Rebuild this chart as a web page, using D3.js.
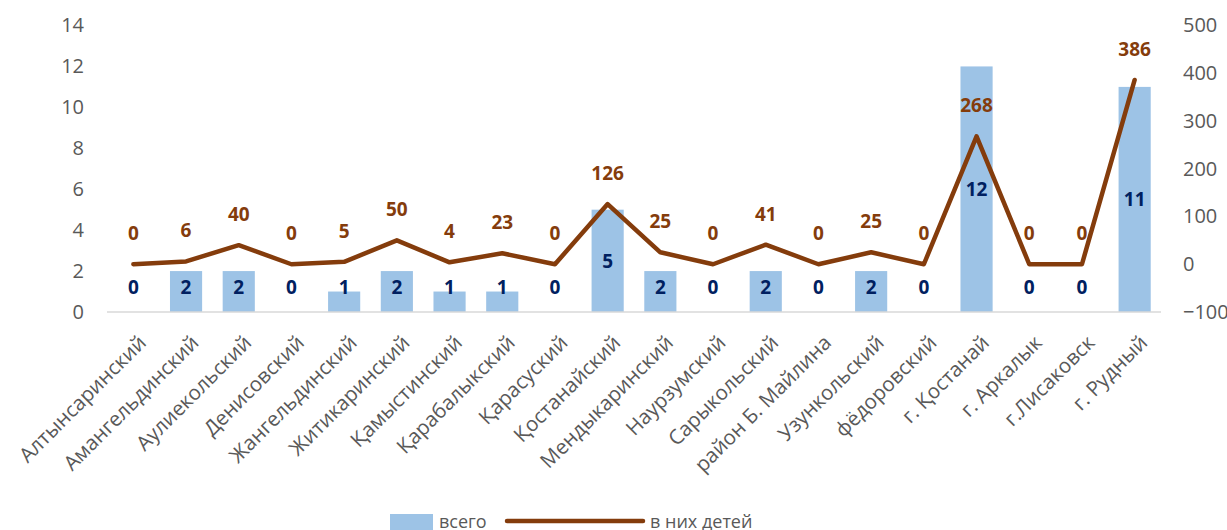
<!DOCTYPE html>
<html><head><meta charset="utf-8">
<script src="https://cdn.jsdelivr.net/npm/d3@7"></script>
<style>
body{margin:0;background:#fff;}
svg{display:block;font-family:"Open Sans",sans-serif;}
</style></head><body>
<svg id="c" width="1227" height="530"></svg>
<script>
const categories = ["Алтынсаринский","Амангельдинский","Аулиекольский","Денисовский","Жангельдинский","Житикаринский","Қамыстинский","Қарабалыкский","Қарасуский","Қостанайский","Мендыкаринский","Наурзумский","Сарыкольский","район Б. Майлина","Узункольский","фёдоровский","г. Қостанай","г. Аркалык","г.Лисаковск","г. Рудный"];
const totalValues = [0,2,2,0,1,2,1,1,0,5,2,0,2,0,2,0,12,0,0,11];
const childValues = [0,6,40,0,5,50,4,23,0,126,25,0,41,0,25,0,268,0,0,386];
const leftTicks = [0,2,4,6,8,10,12,14];
const rightTicks = [-100,0,100,200,300,400,500];
const seriesNames = ["всего","в них детей"];

const svg = d3.select("#c");
const x0 = 107, x1 = 1161, yTop = 25.5, yBot = 312;
const x = d3.scaleBand().domain(categories).range([x0,x1]).paddingInner(0.39).paddingOuter(0.195);
const yL = d3.scaleLinear().domain([0,14]).range([yBot,yTop]);
const yR = d3.scaleLinear().domain([-100,500]).range([yBot,yTop]);
const cx = d => x(d) + x.bandwidth()/2;

// left axis
const gL = svg.append("g").attr("transform",`translate(${x0},0)`)
  .call(d3.axisLeft(yL).tickValues(leftTicks).tickSize(0).tickPadding(23));
gL.select(".domain").remove();
gL.selectAll("text").attr("fill","#595959").style("font-size","20px").style("font-family","Open Sans");

// right axis
const gR = svg.append("g").attr("transform",`translate(${x1},0)`)
  .call(d3.axisRight(yR).tickValues(rightTicks).tickSize(0).tickPadding(22));
gR.select(".domain").remove();
gR.selectAll("text").attr("fill","#595959").style("font-size","20px").style("font-family","Open Sans");

// bars
svg.append("g").selectAll("rect").data(categories).join("rect")
  .attr("x",d=>x(d)).attr("width",x.bandwidth())
  .attr("y",(d,i)=>yL(totalValues[i])).attr("height",(d,i)=>yL(0)-yL(totalValues[i]))
  .attr("fill","#9DC3E6");

// baseline
svg.append("line").attr("x1",x0).attr("x2",x1).attr("y1",yL(0)).attr("y2",yL(0))
  .attr("stroke","#D9D9D9").attr("stroke-width",1.5);

// x axis labels
const gX = svg.append("g").attr("transform",`translate(0,${yBot})`)
  .call(d3.axisBottom(x).tickSize(0).tickPadding(0));
gX.select(".domain").remove();
gX.selectAll("text")
  .attr("fill","#595959").style("font-size","20.5px").style("font-family","Open Sans")
  .attr("text-anchor","end").attr("dy",0)
  .attr("transform","translate(14,32) rotate(-45)");

// line
const line = d3.line().x((d,i)=>cx(categories[i])).y(d=>yR(d));
svg.append("path").datum(childValues).attr("d",line)
  .attr("fill","none").attr("stroke","#843C0C").attr("stroke-width",4.5)
  .attr("stroke-linejoin","round").attr("stroke-linecap","round");

// bar labels
svg.append("g").selectAll("text").data(categories).join("text")
  .attr("x",d=>cx(d))
  .attr("y",(d,i)=>Math.min((yL(totalValues[i])+yL(0))/2, yL(0)-25)+7)
  .attr("text-anchor","middle").attr("fill","#002060")
  .style("font-size","19px").style("font-weight","bold")
  .text((d,i)=>totalValues[i]);

// line labels
svg.append("g").selectAll("text").data(categories).join("text")
  .attr("x",d=>cx(d))
  .attr("y",(d,i)=>yR(childValues[i])-24)
  .attr("text-anchor","middle").attr("fill","#843C0C")
  .style("font-size","19px").style("font-weight","bold")
  .text((d,i)=>childValues[i]);

// legend
const lg = svg.append("g");
lg.append("rect").attr("x",390).attr("y",514).attr("width",43).attr("height",16).attr("fill","#9DC3E6");
lg.append("text").attr("x",439).attr("y",528).attr("fill","#595959").style("font-size","18px").text(seriesNames[0]);
lg.append("line").attr("x1",507).attr("x2",643).attr("y1",521).attr("y2",521)
  .attr("stroke","#843C0C").attr("stroke-width",4.5).attr("stroke-linecap","round");
lg.append("text").attr("x",650).attr("y",528).attr("fill","#595959").style("font-size","18px").text(seriesNames[1]);
</script>
</body></html>
